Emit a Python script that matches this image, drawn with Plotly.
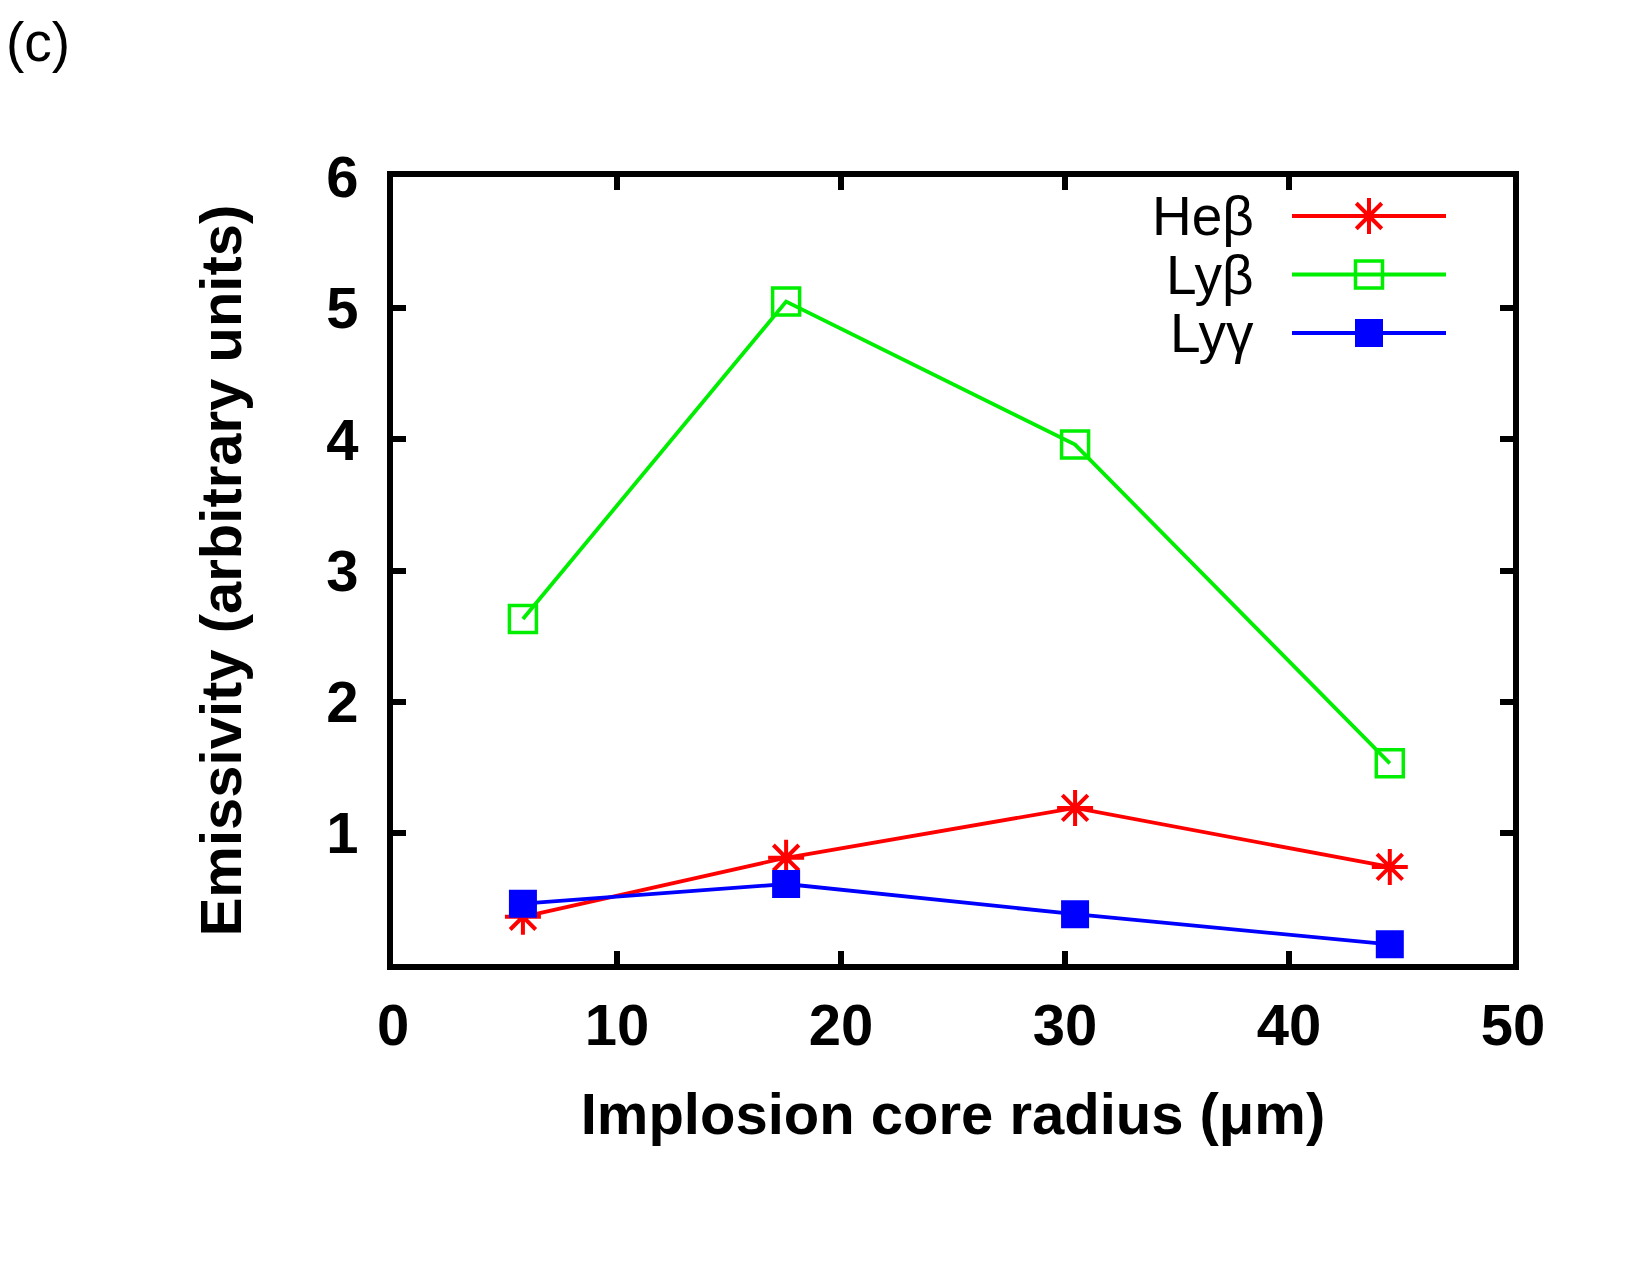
import plotly.graph_objects as go

# ---- data ----
radius = [5.8, 17.55, 30.45, 44.5]
he_beta = [0.36, 0.81, 1.19, 0.74]
ly_beta = [2.63, 5.05, 3.96, 1.53]
ly_gamma = [0.46, 0.61, 0.38, 0.15]

series_names = ["Heβ", "Lyβ", "Lyγ"]
series_values = [he_beta, ly_beta, ly_gamma]
series_colors = ["#ff0000", "#00ee00", "#0000ff"]
series_symbols = ["asterisk-open", "square-open", "square"]
series_sizes = [30, 27, 25]
series_mlw = [4, 3.5, 3]

x_ticks = [0, 10, 20, 30, 40, 50]
y_ticks = [1, 2, 3, 4, 5, 6]

FONT = "Liberation Sans, Arial, Helvetica, sans-serif"
W, H = 1650, 1275
L, R, T, B = 393, 1513, 177, 964
PW, PH = R - L, B - T

fig = go.Figure()

for name, vals, col, sym, sz, mlw in zip(series_names, series_values, series_colors,
                                         series_symbols, series_sizes, series_mlw):
    fig.add_trace(go.Scatter(
        x=radius, y=vals, mode="lines+markers", name=name,
        line=dict(color=col, width=3.8),
        marker=dict(symbol=sym, size=sz, color=col, line=dict(color=col, width=mlw)),
        showlegend=False, cliponaxis=False,
    ))

# ---- manual legend (text on left, sample on right, like gnuplot) ----
def px_x(px):
    return (px - L) / PW

def px_y(py):
    return (B - py) / PH

leg_rows_px = [216, 274.5, 333]
for name, col, sym, sz, mlw, rpx in zip(series_names, series_colors, series_symbols,
                                        series_sizes, series_mlw, leg_rows_px):
    ry = px_y(rpx)
    fig.add_trace(go.Scatter(
        x=[px_x(1292), px_x(1446)], y=[ry, ry], mode="lines", xaxis="x2", yaxis="y2",
        line=dict(color=col, width=3.8), showlegend=False, hoverinfo="skip"))
    fig.add_trace(go.Scatter(
        x=[px_x(1369)], y=[ry], mode="markers", xaxis="x2", yaxis="y2",
        marker=dict(symbol=sym, size=sz, color=col, line=dict(color=col, width=mlw)),
        showlegend=False, hoverinfo="skip"))
    fig.add_annotation(x=px_x(1256), y=ry, xref="x2", yref="y2", text=name,
                       showarrow=False, xanchor="right", yanchor="middle",
                       font=dict(family=FONT, size=55, color="black"))

fig.add_annotation(x=px_x(4), y=px_y(42), xref="paper", yref="paper", text="(c)",
                   showarrow=False, xanchor="left", yanchor="middle",
                   font=dict(family=FONT, size=55, color="black"))

axis_common = dict(
    showline=True, linewidth=6, linecolor="black", mirror="ticks",
    ticks="inside", ticklen=13, tickwidth=6, tickcolor="black",
    showgrid=False, zeroline=False,
    tickfont=dict(family=FONT, size=58, color="black", weight="bold"),
)

fig.update_layout(
    width=W, height=H,
    margin=dict(l=L, r=W - R, t=T, b=H - B),
    paper_bgcolor="white", plot_bgcolor="white",
    xaxis=dict(range=[0, 50], tickvals=x_ticks, ticktext=[str(v) for v in x_ticks],
               ticklabelstandoff=5,
               title=dict(text="Implosion core radius (μm)", standoff=40,
                          font=dict(family=FONT, size=58, color="black", weight="bold")),
               **axis_common),
    yaxis=dict(range=[0, 6], tickvals=y_ticks, ticktext=[str(v) for v in y_ticks],
               ticklabelstandoff=17,
               title=dict(text="Emissivity (arbitrary units)", standoff=68,
                          font=dict(family=FONT, size=58, color="black", weight="bold")),
               **axis_common),
    xaxis2=dict(domain=[0, 1], range=[0, 1], overlaying="x", visible=False, fixedrange=True),
    yaxis2=dict(domain=[0, 1], range=[0, 1], overlaying="y", anchor="x2", visible=False, fixedrange=True),
    showlegend=False,
)

fig.write_html("out.html")
